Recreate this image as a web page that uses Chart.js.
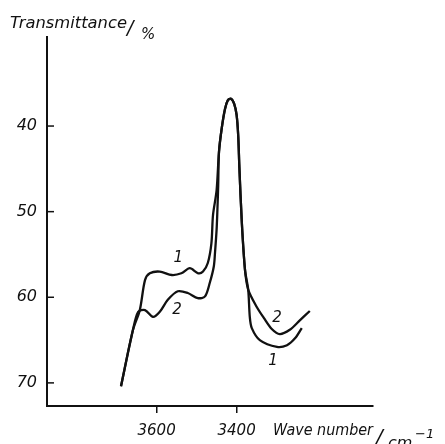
<!DOCTYPE html>
<html>
<head>
<meta charset="utf-8">
<script src="https://cdn.jsdelivr.net/npm/chart.js@4.4.0/dist/chart.umd.min.js"></script>
<style>
  body { margin: 0; background: #fff; }
  #wrap { width: 445px; height: 444px; }
</style>
</head>
<body>
<div id="wrap"><canvas id="irChart"></canvas></div>
<script>
// wave numbers (cm-1) and transmittance (%)
var wave1 = [3689, 3659, 3642, 3629, 3617, 3592, 3562, 3538, 3517, 3496, 3484, 3472, 3463, 3459, 3450, 3444, 3437, 3429, 3422, 3414, 3406, 3400, 3396, 3393, 3387, 3379, 3371, 3367, 3362, 3342, 3299, 3274, 3254, 3237];
var trans1 = [70.4, 63.8, 61.5, 58.0, 57.2, 57.0, 57.4, 57.2, 56.6, 57.2, 57.0, 56.0, 53.7, 50.4, 47.5, 43.0, 40.2, 38.0, 37.0, 36.8, 37.4, 38.7, 41.1, 44.9, 51.2, 56.8, 59.1, 62.3, 63.6, 65.0, 65.8, 65.6, 64.8, 63.6];
var wave2 = [3689, 3659, 3646, 3629, 3609, 3592, 3572, 3547, 3522, 3497, 3479, 3467, 3457, 3454, 3450, 3448, 3446, 3444, 3437, 3429, 3422, 3414, 3406, 3400, 3396, 3393, 3387, 3379, 3371, 3350, 3332, 3312, 3292, 3267, 3242, 3217];
var trans2 = [70.4, 63.8, 61.7, 61.5, 62.3, 61.7, 60.3, 59.3, 59.5, 60.1, 59.9, 58.3, 56.4, 54.8, 52.1, 49.8, 46.9, 43.0, 40.2, 38.0, 37.0, 36.8, 37.4, 38.7, 41.1, 44.9, 51.2, 56.8, 59.1, 61.1, 62.4, 63.7, 64.3, 63.8, 62.7, 61.6];
var yTicks = [40, 50, 60, 70];
var xTicks = [3600, 3400];
// curve number labels: [wave, transmittance, text]
var curveLabels = [[3546, 55.4, '1'], [3549, 61.5, '2'], [3299, 62.4, '2'], [3309, 67.5, '1']];

function toPoints(xs, ys) {
  return xs.map(function (x, i) { return { x: x, y: ys[i] }; });
}

var fam = '"DejaVu Sans", sans-serif';

// draw italic text squeezed/stretched to a given width
function fitText(c, txt, x, y, size, width) {
  c.font = 'italic ' + size + 'px ' + fam;
  var w = c.measureText(txt).width;
  c.save();
  c.translate(x, y);
  c.scale(width / w, 1);
  c.fillText(txt, 0, 0);
  c.restore();
}

var extras = {
  id: 'extras',
  afterDraw: function (chart) {
    var c = chart.ctx, xs = chart.scales.x, ys = chart.scales.y;
    c.save();
    c.strokeStyle = '#111';
    c.lineWidth = 1.5;
    // inward ticks on the transmittance axis
    yTicks.forEach(function (v) {
      var py = ys.getPixelForValue(v);
      c.beginPath();
      c.moveTo(xs.left, py);
      c.lineTo(xs.left + 7, py);
      c.stroke();
    });
    c.fillStyle = '#111';
    c.font = 'italic 15px ' + fam;
    c.textAlign = 'center';
    c.textBaseline = 'middle';
    curveLabels.forEach(function (l) {
      c.fillText(l[2], xs.getPixelForValue(l[0]), ys.getPixelForValue(l[1]));
    });
    // axis titles
    c.textAlign = 'left';
    c.textBaseline = 'alphabetic';
    fitText(c, 'Transmittance', 10, 28, 16, 117);
    c.font = 'italic 19px ' + fam;
    c.fillText('/', 127, 34);
    c.font = 'italic 15px ' + fam;
    c.fillText('%', 141, 39);
    fitText(c, 'Wave number', 273, 435, 16, 100);
    c.font = 'italic 20px ' + fam;
    c.fillText('/', 376, 443);
    c.font = 'italic 16px ' + fam;
    c.fillText('cm', 388, 448);
    c.font = 'italic 13px ' + fam;
    c.fillText('\u22121', 415, 438);
    c.restore();
  }
};

new Chart(document.getElementById('irChart'), {
  type: 'scatter',
  data: {
    datasets: [
      { label: '1', data: toPoints(wave1, trans1), showLine: true, borderColor: '#111', borderWidth: 2.3, pointRadius: 0, tension: 0.3 },
      { label: '2', data: toPoints(wave2, trans2), showLine: true, borderColor: '#111', borderWidth: 2.3, pointRadius: 0, tension: 0.3 }
    ]
  },
  options: {
    responsive: true,
    maintainAspectRatio: false,
    animation: false,
    layout: { padding: { top: 37, right: 72, left: 0, bottom: 0 } },
    plugins: { legend: { display: false }, tooltip: { enabled: false } },
    scales: {
      x: {
        type: 'linear',
        reverse: true,
        min: 3059,
        max: 3874,
        afterBuildTicks: function (s) { s.ticks = xTicks.map(function (v) { return { value: v }; }); },
        afterFit: function (s) { s.height = 38; },
        grid: { drawOnChartArea: false, tickLength: 7, color: '#111', lineWidth: 1.5 },
        border: { color: '#111', width: 2 },
        ticks: { color: '#111', padding: 9, callback: function (v) { return String(v); }, font: { family: 'DejaVu Sans', style: 'italic', size: 15 } }
      },
      y: {
        type: 'linear',
        reverse: true,
        min: 29.6,
        max: 72.7,
        afterBuildTicks: function (s) { s.ticks = yTicks.map(function (v) { return { value: v }; }); },
        afterFit: function (s) { s.width = 47; },
        grid: { drawOnChartArea: false, drawTicks: false },
        border: { color: '#111', width: 2 },
        ticks: { color: '#111', padding: 10, callback: function (v) { return String(v); }, font: { family: 'DejaVu Sans', style: 'italic', size: 16 } }
      }
    }
  },
  plugins: [extras]
});
</script>
</body>
</html>
